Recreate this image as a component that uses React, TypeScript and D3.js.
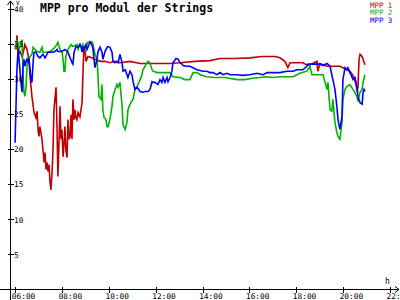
import React from "react";
import * as d3 from "d3";

const W = 400;
const H = 300;

const title = "MPP pro Modul der Strings";
const seriesNames = ["MPP 1", "MPP 2", "MPP 3"];
const seriesColors = ["#c00000", "#00b400", "#0000ff"];

const xTickHours = [6, 8, 10, 12, 14, 16, 18, 20, 22];
const xTickLabels = ["06:00", "08:00", "10:00", "12:00", "14:00", "16:00", "18:00", "20:00", "22:00"];
const yTicks = [5, 10, 15, 20, 25, 30, 35, 40];

// [hour, volts]
const mpp1: [number, number][] = [
  [6.03, 34.2], [6.07, 36.2], [6.12, 33.5], [6.2, 33.9], [6.29, 33.2], [6.37, 34.2], [6.41, 34.9],
  [6.5, 34.2], [6.58, 32.8], [6.63, 30.3], [6.71, 27.5], [6.8, 25.2], [6.88, 24.5], [6.93, 25.4],
  [6.97, 22.8], [7.01, 21.8], [7.05, 23.2], [7.14, 21.4], [7.18, 19.9], [7.23, 18.1], [7.27, 19.5],
  [7.31, 17.1], [7.35, 18.1], [7.4, 16.8], [7.44, 17.8], [7.48, 15.4], [7.52, 14.2], [7.57, 16.7],
  [7.61, 19.9], [7.65, 25.6], [7.74, 28.8], [7.78, 23.2], [7.82, 16.1], [7.87, 21.4], [7.91, 26.1],
  [7.95, 21.4], [7.99, 22.8], [8.04, 18.9], [8.08, 20.7], [8.12, 23.2], [8.16, 19.9], [8.21, 18.8],
  [8.25, 24.2], [8.29, 21.4], [8.34, 21.8], [8.38, 24.9], [8.42, 21.4], [8.46, 27.1], [8.51, 24.2],
  [8.55, 25.6], [8.59, 24.5], [8.63, 24.2], [8.68, 25.2], [8.76, 24.6], [8.85, 26.6], [8.89, 30.9],
  [8.93, 34.6], [8.98, 33.8], [9.02, 32.5], [9.1, 33.2], [9.27, 33.0], [9.4, 32.8], [9.62, 32.5],
  [9.83, 32.5], [10.04, 32.3], [10.26, 32.5], [10.47, 32.3], [10.9, 32.5], [11.33, 32.2], [11.97, 32.2],
  [12.61, 32.2], [13.03, 32.3], [13.67, 32.5], [14.31, 32.6], [14.74, 32.9], [15.38, 32.9], [16.02, 33.0],
  [16.53, 33.2], [16.87, 33.2], [17.09, 33.2], [17.3, 33.0], [17.51, 32.5], [17.64, 31.6], [17.73, 32.3],
  [17.94, 32.3], [18.28, 32.3], [18.45, 32.0], [18.58, 32.0], [18.88, 32.5], [18.92, 31.1], [19.01, 32.2],
  [19.31, 31.8], [19.56, 31.8], [19.86, 31.8], [20.16, 31.3], [20.29, 31.1], [20.42, 30.5], [20.55, 29.2],
  [20.59, 28.2], [20.63, 28.8], [20.68, 32.8], [20.72, 33.5], [20.81, 33.2], [20.85, 32.8], [20.93, 32.0],
];

const mpp2: [number, number][] = [
  [5.99, 34.2], [6.07, 35.6], [6.16, 34.2], [6.24, 34.9], [6.29, 35.6], [6.33, 30.3], [6.37, 28.1],
  [6.41, 27.5], [6.46, 28.9], [6.5, 31.8], [6.54, 32.8], [6.63, 33.2], [6.71, 33.5], [6.76, 34.5],
  [6.84, 34.2], [6.93, 33.9], [7.05, 33.8], [7.14, 34.5], [7.18, 33.8], [7.35, 33.8], [7.48, 33.9],
  [7.61, 34.2], [7.78, 34.9], [7.82, 35.2], [7.91, 34.2], [7.99, 33.9], [8.04, 32.8], [8.08, 31.1],
  [8.12, 31.1], [8.16, 33.2], [8.25, 34.2], [8.38, 34.9], [8.46, 34.6], [8.63, 34.9], [8.68, 34.2],
  [8.76, 34.9], [8.85, 34.5], [8.89, 34.9], [8.98, 34.2], [9.1, 35.2], [9.19, 35.2], [9.27, 35.3],
  [9.32, 34.9], [9.4, 33.5], [9.49, 32.8], [9.53, 30.6], [9.57, 27.5], [9.66, 27.1], [9.7, 29.2],
  [9.74, 25.6], [9.79, 24.5], [9.87, 24.2], [9.92, 23.2], [9.96, 23.2], [10.04, 24.2], [10.13, 26.1],
  [10.17, 27.5], [10.26, 28.5], [10.34, 29.2], [10.39, 28.8], [10.47, 29.5], [10.56, 26.1], [10.6, 23.5],
  [10.69, 22.8], [10.77, 23.8], [10.81, 25.6], [10.9, 26.4], [11.03, 27.1], [11.11, 28.5], [11.2, 28.9],
  [11.33, 29.9], [11.41, 30.6], [11.45, 31.3], [11.54, 31.8], [11.62, 32.3], [11.67, 32.5], [11.75, 32.3],
  [11.84, 31.3], [11.88, 31.1], [12.05, 30.9], [12.39, 30.9], [12.61, 30.9], [12.73, 30.3], [13.03, 30.2],
  [13.24, 29.9], [13.46, 29.9], [13.59, 30.9], [13.76, 30.9], [13.89, 30.6], [14.18, 30.3], [14.52, 30.2],
  [14.95, 30.2], [15.47, 29.9], [15.81, 29.9], [16.11, 30.1], [16.45, 30.2], [16.66, 30.3], [17.0, 30.2],
  [17.3, 30.3], [17.73, 30.3], [17.86, 30.3], [18.15, 30.8], [18.45, 31.1], [18.58, 31.8], [18.67, 30.6],
  [18.92, 30.6], [19.14, 30.6], [19.22, 29.6], [19.31, 28.5], [19.35, 29.5], [19.44, 25.6], [19.52, 25.4],
  [19.56, 27.1], [19.65, 23.8], [19.73, 22.4], [19.78, 21.8], [19.86, 21.4], [19.95, 23.8], [19.99, 27.1],
  [20.08, 28.5], [20.16, 28.9], [20.29, 29.2], [20.42, 28.5], [20.59, 27.5], [20.63, 26.8], [20.72, 28.1],
  [20.81, 28.5], [20.85, 29.5], [20.93, 30.6],
];

const mpp3: [number, number][] = [
  [5.99, 20.9], [6.03, 26.1], [6.07, 31.3], [6.12, 34.2], [6.16, 32.8], [6.24, 29.5], [6.29, 28.1],
  [6.33, 31.8], [6.37, 32.8], [6.41, 31.8], [6.46, 32.5], [6.5, 32.8], [6.54, 32.5], [6.58, 33.0],
  [6.63, 31.3], [6.67, 29.9], [6.71, 29.5], [6.76, 32.3], [6.8, 33.8], [6.88, 33.8], [6.97, 33.2],
  [7.05, 33.0], [7.18, 33.5], [7.27, 33.0], [7.4, 33.8], [7.57, 33.8], [7.7, 33.9], [7.78, 34.2],
  [7.82, 33.9], [7.99, 33.9], [8.12, 34.2], [8.25, 33.8], [8.42, 32.3], [8.46, 32.1], [8.51, 33.8],
  [8.59, 34.6], [8.68, 34.5], [8.76, 34.9], [8.81, 34.5], [8.85, 33.8], [8.89, 34.6], [8.93, 34.2],
  [9.02, 34.9], [9.06, 34.2], [9.15, 34.9], [9.19, 35.3], [9.27, 34.9], [9.32, 34.2], [9.36, 32.8],
  [9.4, 31.6], [9.49, 32.8], [9.53, 33.9], [9.62, 34.5], [9.7, 33.8], [9.74, 32.8], [9.83, 33.9],
  [9.92, 34.5], [9.96, 34.6], [10.04, 34.5], [10.13, 33.8], [10.17, 32.5], [10.26, 32.3], [10.34, 32.5],
  [10.39, 32.3], [10.47, 33.5], [10.56, 32.3], [10.6, 31.1], [10.69, 31.3], [10.77, 30.6], [10.81, 30.2],
  [10.9, 31.1], [10.98, 30.6], [11.03, 29.6], [11.11, 28.5], [11.2, 28.8], [11.33, 28.2], [11.45, 28.1],
  [11.54, 28.2], [11.67, 28.2], [11.75, 28.5], [11.84, 29.6], [11.88, 29.5], [11.97, 29.5], [12.09, 29.2],
  [12.18, 29.9], [12.26, 29.5], [12.31, 30.2], [12.39, 29.5], [12.48, 30.2], [12.52, 29.6], [12.61, 30.2],
  [12.69, 31.1], [12.73, 32.3], [12.78, 32.5], [12.86, 32.9], [12.95, 32.8], [13.03, 32.3], [13.12, 32.1],
  [13.16, 31.9], [13.33, 31.8], [13.46, 31.8], [13.59, 31.6], [13.76, 31.3], [13.89, 31.2], [14.01, 31.1],
  [14.18, 31.1], [14.31, 30.9], [14.44, 30.9], [14.61, 30.6], [14.74, 30.9], [14.87, 30.6], [15.04, 30.8],
  [15.17, 30.6], [15.47, 30.6], [15.72, 30.5], [16.02, 30.6], [16.32, 30.8], [16.58, 30.6], [16.75, 30.9],
  [17.0, 30.9], [17.3, 30.9], [17.6, 31.1], [17.86, 31.1], [18.02, 31.3], [18.28, 31.3], [18.45, 31.8],
  [18.5, 32.1], [18.67, 32.1], [18.88, 32.1], [19.01, 32.1], [19.14, 31.9], [19.31, 32.2], [19.44, 31.8],
  [19.56, 29.9], [19.65, 28.5], [19.73, 26.1], [19.78, 24.2], [19.86, 22.8], [19.95, 24.6], [19.99, 29.9],
  [20.08, 31.6], [20.16, 31.3], [20.2, 31.6], [20.29, 30.9], [20.37, 30.3], [20.42, 29.9], [20.5, 30.2],
  [20.59, 28.9], [20.63, 27.5], [20.72, 26.6], [20.81, 26.4], [20.85, 28.1], [20.89, 28.5], [20.93, 28.2],
];

const allSeries = [mpp1, mpp2, mpp3];

const x = d3.scaleLinear().domain([6, 22]).range([15.3, 390]);
const y = d3.scaleLinear().domain([0, 40]).range([289.5, 8.7]);

const mono = "'DejaVu Sans Mono', 'Liberation Mono', monospace";

export default function App() {
  const line = d3
    .line<[number, number]>()
    .x((d) => x(d[0]))
    .y((d) => y(d[1]));
  const axisX = 10.5;
  const axisY = 289.5;
  return (
    <svg
      width={W}
      height={H}
      viewBox={`0 0 ${W} ${H}`}
      style={{ position: "absolute", left: 0, top: 0, background: "#fff" }}
    >
      <rect x={0} y={0} width={W} height={H} fill="#fff" />
      {/* data lines */}
      {allSeries.map((s, i) => (
        <path
          key={i}
          d={line(s) || ""}
          fill="none"
          stroke={seriesColors[i]}
          strokeWidth={1.6}
          strokeLinejoin="miter"
        />
      ))}
      {/* axes */}
      <g stroke="#000" strokeWidth={1} shapeRendering="crispEdges">
        <line x1={axisX} x2={axisX} y1={1} y2={H} />
        <line x1={0} x2={398} y1={axisY} y2={axisY} />
        {yTicks.map((t) => (
          <line key={t} x1={7.5} x2={14} y1={Math.round(y(t)) + 0.5} y2={Math.round(y(t)) + 0.5} />
        ))}
        {xTickHours.map((t) => (
          <line key={t} x1={Math.round(x(t)) + 0.5} x2={Math.round(x(t)) + 0.5} y1={286.5} y2={293} />
        ))}
      </g>
      {/* arrows */}
      <path d={`M7.5,5 L10.5,1 L13.5,5`} fill="none" stroke="#000" strokeWidth={1} />
      <path d={`M395,286.5 L399,289.5 L395,292.5`} fill="none" stroke="#000" strokeWidth={1} />
      {/* axis unit labels */}
      <text x={16} y={5} fontFamily={mono} fontSize={6} fill="#000">V</text>
      <text x={385} y={284} fontFamily={mono} fontSize={8} fill="#000">h</text>
      {/* y tick labels */}
      {yTicks.map((t) => (
        <text
          key={t}
          x={14}
          y={y(t) + 3.2}
          fontFamily={mono}
          fontSize={7.8}
          fill="#000"
        >
          {t}
        </text>
      ))}
      {/* x tick labels */}
      {xTickHours.map((t, i) => (
        <text key={t} x={x(t) - 3.5} y={299} fontFamily={mono} fontSize={7.8} fill="#000">
          {xTickLabels[i]}
        </text>
      ))}
      {/* title */}
      <text x={40} y={12} fontFamily={mono} fontSize={11.5} fontWeight="bold" fill="#000">
        {title}
      </text>
      {/* legend */}
      {seriesNames.map((n, i) => (
        <text
          key={n}
          x={370}
          y={7.5 + i * 7.6}
          fontFamily={mono}
          fontSize={7.4}
          fill={seriesColors[i]}
        >
          {n}
        </text>
      ))}
    </svg>
  );
}
